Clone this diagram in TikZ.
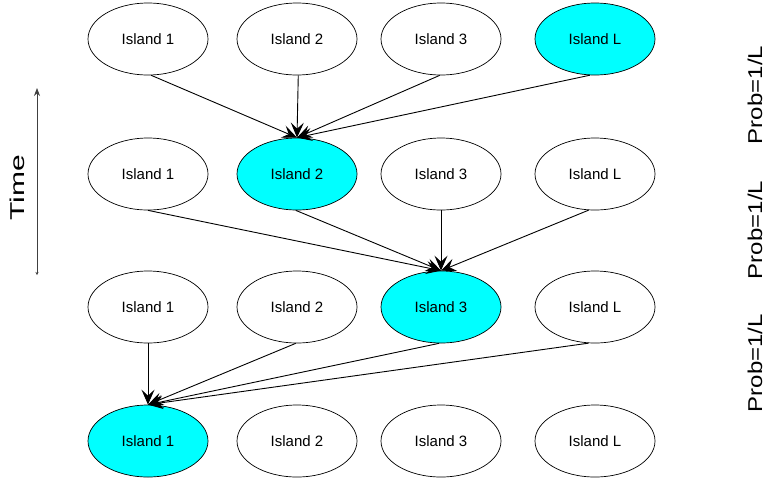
\documentclass[tikz,border=0pt]{standalone}
\usepackage{fontspec}
\setmainfont{Liberation Sans}
\usetikzlibrary{shapes.geometric,arrows.meta}
\definecolor{isl}{RGB}{0,255,255}
\tikzset{
  island/.style={ellipse, draw=black, line width=0.7pt, fill=white, minimum width=120pt, minimum height=72pt, inner sep=0pt, font=\fontsize{15}{17}\selectfont},
  chosen/.style={island, fill=isl},
  mig/.style={draw=black, line width=0.9pt, -{Stealth[length=15pt,width=13pt,inset=6pt]}},
  side/.style={font=\fontsize{20}{24}\selectfont, rotate=90, inner sep=0pt}
}
\begin{document}
\begin{tikzpicture}[x=1pt,y=-1pt]
\useasboundingbox (0,0) rectangle (767,483);
% rows
\node[island] (t1) at (148,39) {Island 1};
\node[island] (t2) at (297,39) {Island 2};
\node[island] (t3) at (441,39) {Island 3};
\node[chosen] (t4) at (595,39) {Island L};
\node[island] (m1) at (148,174) {Island 1};
\node[chosen] (m2) at (297,174) {Island 2};
\node[island] (m3) at (441,174) {Island 3};
\node[island] (m4) at (595,174) {Island L};
\node[island] (n1) at (148,307) {Island 1};
\node[island] (n2) at (297,307) {Island 2};
\node[chosen] (n3) at (441,307) {Island 3};
\node[island] (n4) at (595,307) {Island L};
\node[chosen] (b1) at (148,441) {Island 1};
\node[island] (b2) at (297,441) {Island 2};
\node[island] (b3) at (441,441) {Island 3};
\node[island] (b4) at (595,441) {Island L};
% migrations
\draw[mig] (t1.-85) -- (m2.north);
\draw[mig] (t2.-88) -- (m2.north);
\draw[mig] (t3.-92) -- (m2.north);
\draw[mig] (t4.-98) -- (m2.north);
\draw[mig] (m1.south) -- (n3.north);
\draw[mig] (m2.-92) -- (n3.north);
\draw[mig] (m3.south) -- (n3.north);
\draw[mig] (m4.-100) -- (n3.north);
\draw[mig] (n1.south) -- (b1.north);
\draw[mig] (n2.-92) -- (b1.north);
\draw[mig] (n3.-93) -- (b1.north);
\draw[mig] (n4.-100) -- (b1.north);
% time axis
\coordinate (tb) at (37,275);
\coordinate (tt) at (37,88);
\draw[black!75, line width=0.7pt, {Stealth[length=3pt,width=3pt]}-{Stealth[length=8pt,width=6pt]}] (tb) -- (tt);
\node[side, font=\fontsize{20}{22}\selectfont] (time) at (17,188) {\scalebox{1.5}[1]{Time}};
% probabilities
\node[side] (p1) at (755,95) {\scalebox{1.2}[1]{Prob=1/L}};
\node[side] (p2) at (755,230) {\scalebox{1.2}[1]{Prob=1/L}};
\node[side] (p3) at (755,363) {\scalebox{1.2}[1]{Prob=1/L}};
\end{tikzpicture}
\end{document}
